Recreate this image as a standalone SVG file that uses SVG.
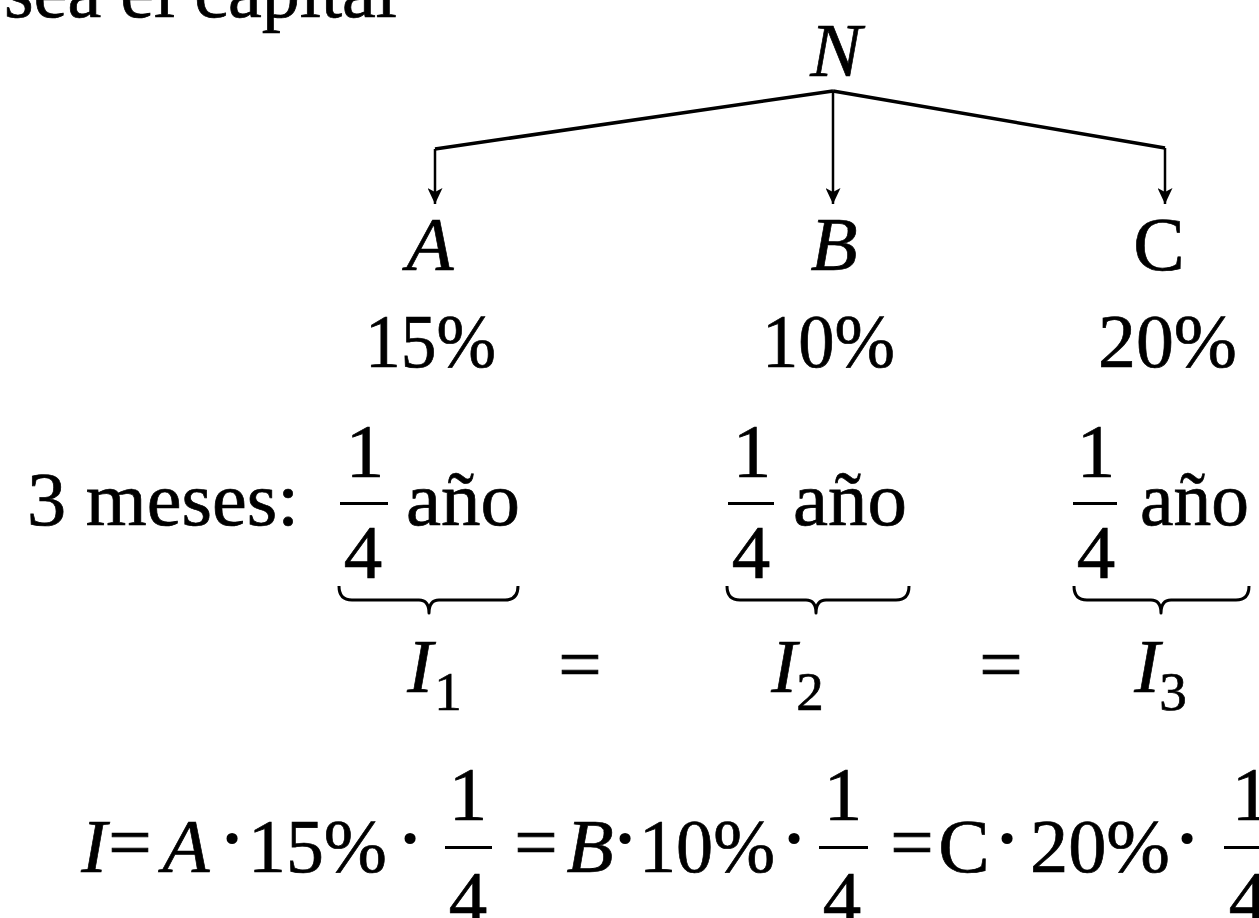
<svg xmlns="http://www.w3.org/2000/svg" width="1259" height="918" viewBox="0 0 1259 918">
<style>
text { font-family: "Liberation Serif", "Times New Roman", serif; font-size: 77px; fill: #000; stroke: #000; stroke-width: 0.7px; }
.it { font-style: italic; }
.sub { font-size: 55px; }
.mid { text-anchor: middle; }
.dot { stroke-width: 2px; }
.slant { stroke: #000; stroke-width: 3.5; fill: none; stroke-linejoin: round; }
.drop { stroke: #000; stroke-width: 2.5; fill: none; }
.bar { fill: #000; }
.brace { stroke: #000; stroke-width: 3; fill: none; stroke-linejoin: round; }
</style>
<defs>
<marker id="arr" viewBox="0 0 16 15" refX="16" refY="7.5" markerWidth="16" markerHeight="15" markerUnits="userSpaceOnUse" orient="auto">
<path d="M0,0 L16,7.5 L0,15 L4,7.5 z" fill="#000"/>
</marker>
</defs>
<rect width="1259" height="918" fill="#fff"/>

<text id="top-text" x="4" y="17" textLength="393" lengthAdjust="spacingAndGlyphs">sea el capital</text>

<g id="connectors">
<path class="slant" d="M833,91 L435,149"/>
<path class="drop" d="M435,149 L435,204" marker-end="url(#arr)"/>
<path class="drop" d="M833,91 L833,204" marker-end="url(#arr)"/>
<path class="slant" d="M833,91 L1165,148"/>
<path class="drop" d="M1165,148 L1165,204" marker-end="url(#arr)"/>
</g>

<g id="node-N"><text class="it mid" x="836" y="76">N</text></g>
<g id="node-A"><text class="it mid" x="430" y="270">A</text></g>
<g id="node-B"><text class="it mid" x="834" y="270">B</text></g>
<g id="node-C"><text class="mid" x="1159" y="270">C</text></g>

<g id="rates">
<text x="365" y="367" textLength="131" lengthAdjust="spacingAndGlyphs">15%</text>
<text x="762" y="367" textLength="133" lengthAdjust="spacingAndGlyphs">10%</text>
<text x="1098" y="367" textLength="139" lengthAdjust="spacingAndGlyphs">20%</text>
</g>

<g id="time-row">
<text x="27" y="525" textLength="272" lengthAdjust="spacingAndGlyphs">3 meses:</text>
<text class="mid" x="365" y="477">1</text>
<rect class="bar" x="340" y="502" width="48" height="3"/>
<text class="mid" x="363" y="578">4</text>
<text x="406" y="525" textLength="114" lengthAdjust="spacingAndGlyphs">año</text>
<text class="mid" x="752" y="477">1</text>
<rect class="bar" x="728" y="502" width="46" height="3"/>
<text class="mid" x="751" y="578">4</text>
<text x="793" y="525" textLength="114" lengthAdjust="spacingAndGlyphs">año</text>
<text class="mid" x="1096" y="477">1</text>
<rect class="bar" x="1073" y="502" width="44" height="3"/>
<text class="mid" x="1096" y="578">4</text>
<text x="1140" y="525" textLength="109" lengthAdjust="spacingAndGlyphs">año</text>
</g>

<g id="braces">
<path class="brace" d="M339,586 Q339,600 352,600 L419,600 Q429,600 429,613 Q429,600 439,600 L505,600 Q518,600 518,586"/>
<path class="brace" d="M727,586 Q727,600 740,600 L806,600 Q816,600 816,613 Q816,600 826,600 L896,600 Q909,600 909,586"/>
<path class="brace" d="M1074,586 Q1074,600 1087,600 L1151,600 Q1161,600 1161,613 Q1161,600 1171,600 L1236,600 Q1249,600 1249,586"/>
</g>

<g id="interest-row">
<text class="it mid" x="420" y="692">I</text>
<text class="sub mid" x="448" y="710">1</text>
<text class="mid" x="580" y="690">=</text>
<text class="it mid" x="784" y="692">I</text>
<text class="sub mid" x="810" y="710">2</text>
<text class="mid" x="1001" y="690">=</text>
<text class="it mid" x="1147" y="692">I</text>
<text class="sub mid" x="1173" y="710">3</text>
</g>

<g id="equation">
<text class="it mid" x="94" y="872">I</text>
<text class="mid" x="130" y="868">=</text>
<text class="it mid" x="186" y="872">A</text>
<text class="mid dot" x="232" y="864">·</text>
<text x="248" y="872" textLength="139" lengthAdjust="spacingAndGlyphs">15%</text>
<text class="mid dot" x="410" y="864">·</text>
<text class="mid" x="468" y="820">1</text>
<rect class="bar" x="445" y="846" width="47" height="3"/>
<text class="mid" x="468" y="924">4</text>
<text class="mid" x="536" y="868">=</text>
<text class="it mid" x="590" y="872">B</text>
<text class="mid dot" x="625" y="864">·</text>
<text x="639" y="872" textLength="136" lengthAdjust="spacingAndGlyphs">10%</text>
<text class="mid dot" x="794" y="864">·</text>
<text class="mid" x="843" y="820">1</text>
<rect class="bar" x="819" y="846" width="49" height="3"/>
<text class="mid" x="842" y="924">4</text>
<text class="mid" x="912" y="868">=</text>
<text class="mid" x="964" y="872">C</text>
<text class="mid dot" x="1007" y="864">·</text>
<text x="1030" y="872" textLength="140" lengthAdjust="spacingAndGlyphs">20%</text>
<text class="mid dot" x="1187" y="864">·</text>
<text class="mid" x="1251" y="820">1</text>
<rect class="bar" x="1224" y="846" width="40" height="3"/>
<text class="mid" x="1248" y="924">4</text>
</g>
</svg>
